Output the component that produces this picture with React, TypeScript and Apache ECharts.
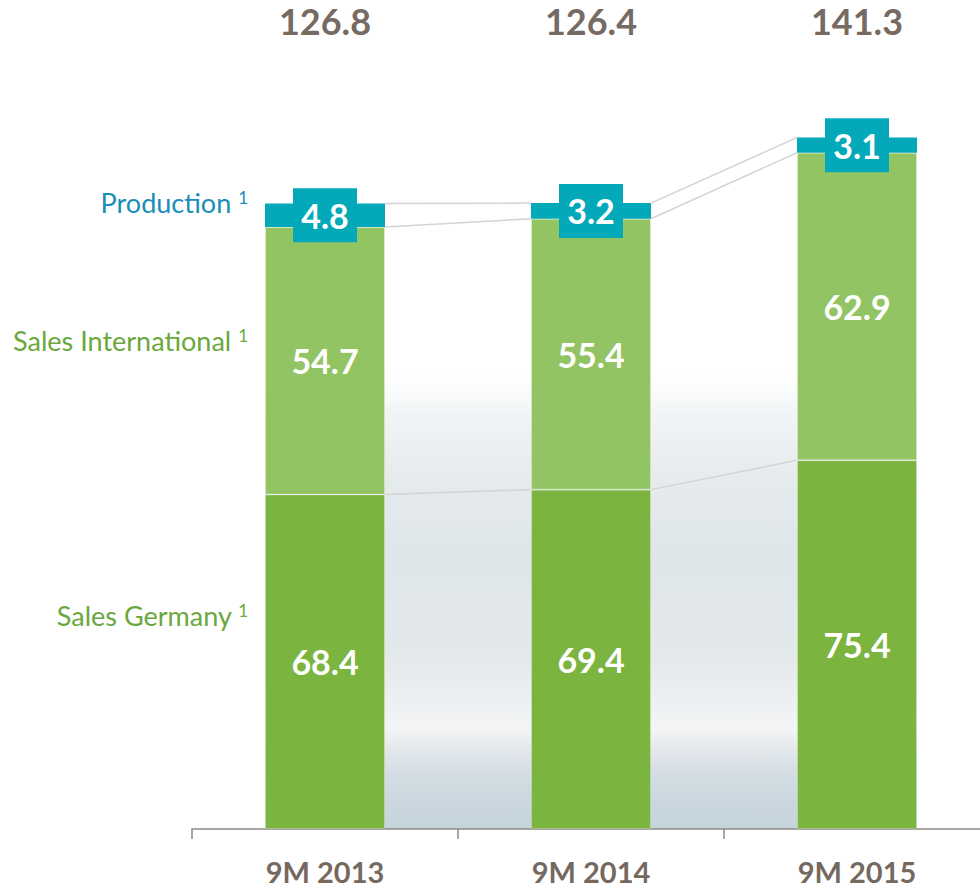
import React, { useEffect, useRef } from "react";
import * as echarts from "echarts";

const categories = ["9M 2013", "9M 2014", "9M 2015"];
const salesGermany = [68.4, 69.4, 75.4];
const salesInternational = [54.7, 55.4, 62.9];
const production = [4.8, 3.2, 3.1];
const totals = ["126.8", "126.4", "141.3"];
const legendNames = ["Production", "Sales International", "Sales Germany"];
const footnoteMark = "1";

const BAR_W = 120;
const BG_TOP = 93;
const FONT = "Lato, 'Open Sans', sans-serif";

export default function App() {
  const ref = useRef<HTMLDivElement>(null);
  useEffect(() => {
    document.body.style.margin = "0";
    const chart = echarts.init(ref.current!, null, { renderer: "svg" });

    const lvl1 = salesGermany;
    const lvl2 = salesGermany.map((v, i) => v + salesInternational[i]);
    const lvl3 = lvl2.map((v, i) => v + production[i]);
    const connectors: number[][] = [];
    [lvl1, lvl2, lvl3].forEach((lvl) => {
      for (let i = 0; i < lvl.length - 1; i++) connectors.push([i, lvl[i], lvl[i + 1]]);
    });

    const bgGradient = new echarts.graphic.LinearGradient(0, 0, 0, 1, [
      { offset: 0, color: "#ffffff" },
      { offset: 0.09, color: "#f1f4f6" },
      { offset: 0.24, color: "#e5eaed" },
      { offset: 0.39, color: "#dfe6e9" },
      { offset: 0.61, color: "#e3e8eb" },
      { offset: 0.72, color: "#edf0f2" },
      { offset: 0.78, color: "#f4f5f6" },
      { offset: 0.82, color: "#e5e9ec" },
      { offset: 0.88, color: "#d3dde3" },
      { offset: 0.94, color: "#cad7de" },
      { offset: 1, color: "#c6d4dc" },
    ]);

    const valueLabel = {
      show: true,
      position: "inside",
      color: "#ffffff",
      fontSize: 34,
      fontWeight: "bold",
      fontFamily: FONT,
    };

    const legendText = (name: string, color: string, top: number) => ({
      type: "text",
      right: 980 - 248,
      top,
      style: {
        text: `${name} {s|${footnoteMark}}`,
        fill: color,
        fontSize: 27,
        fontFamily: FONT,
        textAlign: "right",
        rich: { s: { fontSize: 17, fontFamily: FONT, fill: color, verticalAlign: "top" } },
      },
    });

    chart.setOption({
      animation: false,
      grid: { left: 192, width: 798, top: 95.5, bottom: 55, containLabel: false, outerBoundsMode: "none" },
      xAxis: [
        {
          type: "category",
          data: categories,
          position: "bottom",
          axisLine: { show: true, lineStyle: { color: "#8c8884", width: 1.5 } },
          axisTick: { show: true, length: 10, lineStyle: { color: "#8c8884", width: 1.5 } },
          axisLabel: {
            fontSize: 29,
            lineHeight: 24,
            fontWeight: "bold",
            color: "#75695f",
            fontFamily: FONT,
            margin: 30,
          },
        },
        {
          type: "category",
          data: totals,
          position: "top",
          axisLine: { show: false },
          axisTick: { show: false },
          axisLabel: {
            fontSize: 36,
            fontWeight: "bold",
            color: "#766a62",
            fontFamily: FONT,
            margin: 57,
          },
        },
      ],
      yAxis: { type: "value", min: 0, max: 150, show: false, splitLine: { show: false } },
      graphic: [
        legendText(legendNames[0], "#1a8db8", 189),
        legendText(legendNames[1], "#6aa83c", 327),
        legendText(legendNames[2], "#6aa83c", 602),
      ],
      series: [
        {
          type: "custom",
          name: "backdrop",
          xAxisIndex: 0,
          z: 0,
          silent: true,
          data: [[0, 0]],
          renderItem: (params: any, api: any) => {
            const left = api.coord([0, 0])[0] - BAR_W / 2;
            const right = api.coord([categories.length - 1, 0])[0] + BAR_W / 2;
            const top = api.coord([0, BG_TOP])[1];
            const bottom = api.coord([0, 0])[1];
            return {
              type: "rect",
              shape: { x: left, y: top, width: right - left, height: bottom - top },
              style: { fill: bgGradient },
            };
          },
        },
        {
          type: "bar",
          name: "Sales Germany",
          stack: "total",
          xAxisIndex: 0,
          barWidth: BAR_W,
          z: 2,
          data: salesGermany,
          itemStyle: { color: "#7bb53f", borderColor: "rgba(255,255,255,0.25)", borderWidth: 1 },
          label: valueLabel,
        },
        {
          type: "bar",
          name: "Sales International",
          stack: "total",
          xAxisIndex: 0,
          barWidth: BAR_W,
          z: 2,
          data: salesInternational,
          itemStyle: { color: "#93c463", borderColor: "rgba(255,255,255,0.25)", borderWidth: 1 },
          label: valueLabel,
        },
        {
          type: "bar",
          name: "Production",
          stack: "total",
          xAxisIndex: 0,
          barWidth: BAR_W,
          z: 2,
          data: production,
          itemStyle: { color: "#03a9b9" },
          label: {
            ...valueLabel,
            backgroundColor: "#03a9b9",
            width: 64,
            height: 54,
            lineHeight: 54,
            align: "center",
            verticalAlign: "middle",
          },
        },
        {
          type: "custom",
          name: "connectors",
          xAxisIndex: 0,
          z: 3,
          silent: true,
          data: connectors,
          renderItem: (params: any, api: any) => {
            const i = api.value(0);
            const p1 = api.coord([i, api.value(1)]);
            const p2 = api.coord([i + 1, api.value(2)]);
            return {
              type: "line",
              shape: { x1: p1[0] + BAR_W / 2, y1: p1[1], x2: p2[0] - BAR_W / 2, y2: p2[1] },
              style: { stroke: "#d6d3d3", lineWidth: 1.5 },
            };
          },
        },
      ],
    });
    return () => chart.dispose();
  }, []);
  return <div ref={ref} style={{ width: 980, height: 884 }} />;
}
